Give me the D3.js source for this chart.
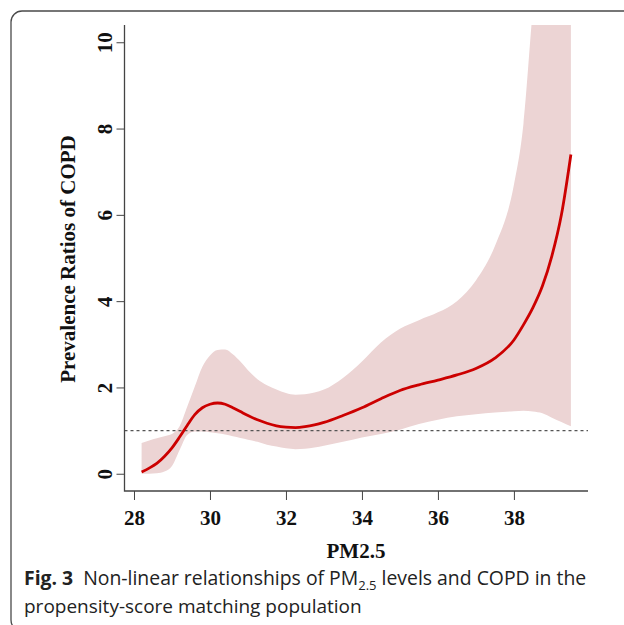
<!DOCTYPE html>
<html>
<head>
    <meta charset="UTF-8">
    <title>PM2.5 and COPD</title>
    <script src="https://d3js.org/d3.v7.min.js"></script>
    <style>
        body { margin: 0; background: #fff; }
        .tick text { font-family: "Liberation Serif", serif; font-weight: bold; font-size: 21px; fill: #111; }
        .tick line { stroke: #444; }
    </style>
</head>
<body>
    <div id="chart"></div>

    <script>
        // PM2.5 levels the spline was read at
        var pm25 = [28.2, 28.4, 28.6, 28.8, 29.0, 29.2, 29.4, 29.6, 29.8, 30.0, 30.2, 30.4, 30.6, 30.8, 31.0,
                    31.25, 31.5, 31.75, 32.0, 32.25, 32.5, 32.75, 33.0, 33.5, 34.0, 34.5, 35.0, 35.5, 36.0,
                    36.5, 37.0, 37.5, 38.0, 38.25, 38.5, 38.75, 39.0, 39.25, 39.5];
        // prevalence ratio estimate
        var ratio = [0.04, 0.13, 0.24, 0.40, 0.60, 0.85, 1.12, 1.37, 1.53, 1.61, 1.64, 1.61, 1.53, 1.44, 1.35,
                     1.25, 1.17, 1.11, 1.08, 1.07, 1.09, 1.13, 1.19, 1.35, 1.53, 1.74, 1.93, 2.06, 2.17,
                     2.29, 2.44, 2.68, 3.10, 3.45, 3.85, 4.35, 5.05, 6.00, 7.40];
        // confidence band
        var upper = [0.71, 0.77, 0.82, 0.87, 0.92, 1.10, 1.55, 2.02, 2.48, 2.74, 2.87, 2.88, 2.77, 2.60, 2.40,
                     2.19, 2.05, 1.95, 1.87, 1.83, 1.84, 1.88, 1.95, 2.22, 2.60, 3.04, 3.36, 3.56, 3.74,
                     4.00, 4.48, 5.28, 6.70, 8.10, 10.8, 13.0, 15.0, 17.0, 19.0];
        var lower = [0.00, 0.00, 0.01, 0.05, 0.18, 0.55, 0.90, 0.98, 0.98, 0.96, 0.94, 0.91, 0.87, 0.83, 0.79,
                     0.74, 0.67, 0.63, 0.59, 0.57, 0.58, 0.61, 0.65, 0.74, 0.84, 0.92, 1.02, 1.15, 1.25,
                     1.33, 1.38, 1.42, 1.45, 1.46, 1.44, 1.40, 1.30, 1.20, 1.10];

        var xTicks = [28, 30, 32, 34, 36, 38];
        var yTicks = [0, 2, 4, 6, 8, 10];

        var data = pm25.map(function (d, i) {
            return {x: d, y: ratio[i], lo: lower[i], hi: upper[i]};
        });

        var width = 624, height = 625;
        var plot = {left: 124.5, right: 588, top: 25, bottom: 491};

        var svg = d3.select("#chart").append("svg")
            .attr("width", width)
            .attr("height", height);

        // frame round the figure
        svg.append("rect")
            .attr("x", 11).attr("y", 11)
            .attr("width", 700).attr("height", 620)
            .attr("rx", 11)
            .attr("fill", "none")
            .attr("stroke", "#4a4a4a")
            .attr("stroke-width", 1.3);

        var x = d3.scaleLinear().domain([27.75, 39.95]).range([plot.left, plot.right]);
        var y = d3.scaleLinear().domain([-0.4, 10.4]).range([plot.bottom, plot.top]);

        svg.append("clipPath").attr("id", "clip")
            .append("rect")
            .attr("x", plot.left).attr("y", plot.top)
            .attr("width", plot.right - plot.left)
            .attr("height", plot.bottom - plot.top);

        var g = svg.append("g").attr("clip-path", "url(#clip)");

        g.append("path")
            .datum(data)
            .attr("fill", "#ecd4d4")
            .attr("d", d3.area()
                .x(function (d) { return x(d.x); })
                .y0(function (d) { return y(d.lo); })
                .y1(function (d) { return y(d.hi); })
                .curve(d3.curveMonotoneX));

        // reference line at ratio 1
        g.append("line")
            .attr("x1", plot.left).attr("x2", plot.right)
            .attr("y1", y(1)).attr("y2", y(1))
            .attr("stroke", "#555")
            .attr("stroke-width", 1.2)
            .attr("stroke-dasharray", "3,3");

        g.append("path")
            .datum(data)
            .attr("fill", "none")
            .attr("stroke", "#cc0000")
            .attr("stroke-width", 2.8)
            .attr("d", d3.line()
                .x(function (d) { return x(d.x); })
                .y(function (d) { return y(d.y); })
                .curve(d3.curveMonotoneX));

        // axes (L shaped box)
        svg.append("path")
            .attr("d", "M" + plot.left + "," + plot.top + "V" + plot.bottom + "H" + plot.right)
            .attr("fill", "none")
            .attr("stroke", "#444")
            .attr("stroke-width", 1.3);

        var xAxis = svg.append("g")
            .attr("transform", "translate(0," + plot.bottom + ")")
            .call(d3.axisBottom(x).tickValues(xTicks).tickSize(9).tickPadding(10).tickFormat(d3.format("d")));
        xAxis.select(".domain").remove();

        var yAxis = svg.append("g")
            .attr("transform", "translate(" + plot.left + ",0)")
            .call(d3.axisLeft(y).tickValues(yTicks).tickSize(8).tickFormat(d3.format("d")));
        yAxis.select(".domain").remove();
        yAxis.selectAll(".tick text")
            .attr("x", null).attr("dy", null)
            .attr("text-anchor", "middle")
            .attr("dominant-baseline", "central")
            .attr("transform", "translate(-20,0) rotate(-90)");

        svg.append("text")
            .attr("x", 356).attr("y", 558)
            .attr("text-anchor", "middle")
            .style("font-family", "Liberation Serif")
            .style("font-weight", "bold")
            .style("font-size", "21px")
            .attr("fill", "#111")
            .text("PM2.5");

        svg.append("text")
            .attr("transform", "translate(75,259) rotate(-90)")
            .attr("text-anchor", "middle")
            .style("font-family", "Liberation Serif")
            .style("font-weight", "bold")
            .style("font-size", "21px")
            .attr("fill", "#111")
            .text("Prevalence Ratios of COPD");

        // caption
        var cap = svg.append("text")
            .attr("x", 24).attr("y", 585)
            .style("font-family", "Open Sans")
            .style("font-size", "19.4px")
            .attr("fill", "#222");
        cap.append("tspan").style("font-weight", "bold").text("Fig. 3");
        cap.append("tspan").attr("dx", 10).text("Non-linear relationships of PM");
        cap.append("tspan").attr("dy", 5).style("font-size", "13px").text("2.5");
        cap.append("tspan").attr("dy", -5).text(" levels and COPD in the");

        svg.append("text")
            .attr("x", 24).attr("y", 613)
            .style("font-family", "Open Sans")
            .style("font-size", "19px")
            .attr("fill", "#222")
            .text("propensity-score matching population");
    </script>
</body>
</html>
